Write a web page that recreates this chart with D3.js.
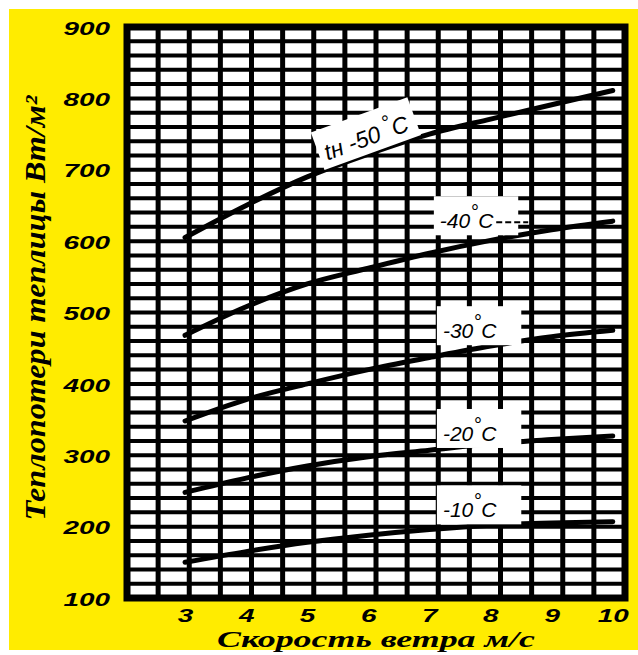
<!DOCTYPE html>
<html>
<head>
<meta charset="utf-8">
<script src="https://cdn.jsdelivr.net/npm/d3@7"></script>
<style>
  body { margin: 0; background: #fff; }
  svg { display: block; }
</style>
</head>
<body>
<div id="chart"></div>
<script>
// wind speed, m/s
var speeds = [3, 4, 5, 6, 7, 8, 9, 10];

// heat loss of the greenhouse, W/m2, one array per outside temperature
var loss50 = [605, 650, 690, 722, 750, 771, 791, 811];
var loss40 = [468, 508, 540, 562, 583, 601, 616, 628];
var loss30 = [348, 378, 400, 420, 437, 453, 466, 475];
var loss20 = [248, 268, 285, 298, 307, 316, 322, 327];
var loss10 = [150, 165, 178, 188, 196, 202, 205, 207];

var temps = ["-50", "-40", "-30", "-20", "-10"];
var xTicks = [3, 4, 5, 6, 7, 8, 9, 10];
var yTicks = [100, 200, 300, 400, 500, 600, 700, 800, 900];

var yTitle = "Теплопотери теплицы Вт/м²";
var xTitle = "Скорость ветра м/с";

// set the dimensions and margins of the graph
var margin = {top: 27, right: 13, bottom: 57, left: 127},
    width = 638 - margin.left - margin.right,
    height = 655 - margin.top - margin.bottom;

var svg = d3.select("#chart")
  .append("svg")
    .attr("width", 638)
    .attr("height", 655);

// yellow page
svg.append("rect")
  .attr("x", 9).attr("y", 9)
  .attr("width", 629).attr("height", 641)
  .attr("fill", "#ffec00");

var g = svg.append("g")
  .attr("transform", "translate(" + margin.left + "," + margin.top + ")");

var x = d3.scaleLinear().domain([2.05, 10.2]).range([0, width]);
var y = d3.scaleLinear().domain([100, 900]).range([height, 0]);
// vertical rulings of the paper, 16 columns
var gx = d3.scaleLinear().domain([0, 16]).range([0, width]);

g.append("rect")
  .attr("width", width).attr("height", height)
  .attr("fill", "#fff");

// grid
g.append("g").selectAll("line")
  .data(d3.range(120, 900, 20))
  .enter().append("line")
    .attr("x1", 0).attr("x2", width)
    .attr("y1", function(d) { return y(d); })
    .attr("y2", function(d) { return y(d); })
    .attr("stroke", "#000")
    .attr("stroke-width", 4);

g.append("g").selectAll("line")
  .data(d3.range(1, 16))
  .enter().append("line")
    .attr("y1", 0).attr("y2", height)
    .attr("x1", function(d) { return gx(d); })
    .attr("x2", function(d) { return gx(d); })
    .attr("stroke", "#000")
    .attr("stroke-width", 5);

// curves
var series = [loss50, loss40, loss30, loss20, loss10];
var line = d3.line()
  .x(function(d, i) { return x(speeds[i]); })
  .y(function(d) { return y(d); })
  .curve(d3.curveMonotoneX);

g.append("g").selectAll("path")
  .data(series)
  .enter().append("path")
    .attr("d", line)
    .attr("fill", "none")
    .attr("stroke", "#000")
    .attr("stroke-width", 5)
    .attr("stroke-linecap", "round");

// curve labels, placed in data units
var labelPos = [
  {x: 5.33, v: 713, angle: -20},
  {x: 7.17, v: 618, angle: 0},
  {x: 7.22, v: 464, angle: 0},
  {x: 7.22, v: 320, angle: 0},
  {x: 7.22, v: 213, angle: 0}
];

temps.forEach(function(t, i) {
  var p = labelPos[i];
  var lg = g.append("g")
    .attr("transform", "translate(" + x(p.x) + "," + y(p.v) + ") rotate(" + p.angle + ")");
  var patch = lg.append("rect").attr("fill", "#fff");
  var txt = lg.append("text")
    .attr("font-family", "Liberation Sans, Arial, sans-serif")
    .attr("font-style", "italic")
    .attr("font-size", i === 0 ? 23 : 21)
    .attr("fill", "#000");
  if (i === 0) txt.append("tspan").text("tн ");
  txt.append("tspan").text(t);
  txt.append("tspan").attr("dy", -9).attr("dx", i === 0 ? 5 : 0).attr("font-size", 20).text("°");
  txt.append("tspan").attr("dy", 9).text("C");
  var bb = txt.node().getBBox();
  patch
    .attr("x", bb.x - 6).attr("y", bb.y - 5)
    .attr("width", bb.width + (i === 0 ? 14 : 30))
    .attr("height", bb.height + 8);
  if (i === 1) {
    lg.append("line")
      .attr("x1", bb.x + bb.width + 2).attr("x2", bb.x + bb.width + 34)
      .attr("y1", -6).attr("y2", -6)
      .attr("stroke", "#000")
      .attr("stroke-width", 2)
      .attr("stroke-dasharray", "6,3");
  }
});

// frame
g.append("rect")
  .attr("width", width).attr("height", height)
  .attr("fill", "none")
  .attr("stroke", "#000")
  .attr("stroke-width", 7);

// axes
var yAxis = g.append("g")
  .call(d3.axisLeft(y).tickValues(yTicks).tickSize(0).tickPadding(0));
yAxis.select(".domain").remove();
yAxis.selectAll("text")
  .attr("x", -11)
  .attr("dy", "0.4em")
  .attr("transform", "scale(1.55,1)")
  .attr("font-family", "Liberation Sans, Arial, sans-serif")
  .attr("font-weight", "bold")
  .attr("font-style", "italic")
  .attr("font-size", 18)
  .attr("fill", "#000");

var xAxis = g.append("g")
  .attr("transform", "translate(0," + height + ")")
  .call(d3.axisBottom(x).tickValues(xTicks).tickSize(0).tickPadding(0));
xAxis.select(".domain").remove();
xAxis.selectAll(".tick text")
  .attr("y", 24)
  .attr("dy", 0)
  .attr("font-family", "Liberation Sans, Arial, sans-serif")
  .attr("font-weight", "bold")
  .attr("font-style", "italic")
  .attr("font-size", 18)
  .attr("fill", "#000")
  .attr("style", "transform: scaleX(1.55); transform-box: fill-box; transform-origin: center;");

// titles
svg.append("text")
  .attr("transform", "translate(45,308) rotate(-90)")
  .attr("text-anchor", "middle")
  .attr("font-family", "Liberation Serif, Times New Roman, serif")
  .attr("font-weight", "bold")
  .attr("font-style", "italic")
  .attr("font-size", 29)
  .attr("textLength", 425)
  .attr("lengthAdjust", "spacingAndGlyphs")
  .text(yTitle);

svg.append("text")
  .attr("x", 376)
  .attr("y", 647)
  .attr("text-anchor", "middle")
  .attr("font-family", "Liberation Serif, Times New Roman, serif")
  .attr("font-weight", "bold")
  .attr("font-style", "italic")
  .attr("font-size", 24)
  .attr("textLength", 318)
  .attr("lengthAdjust", "spacingAndGlyphs")
  .text(xTitle);
</script>
</body>
</html>
